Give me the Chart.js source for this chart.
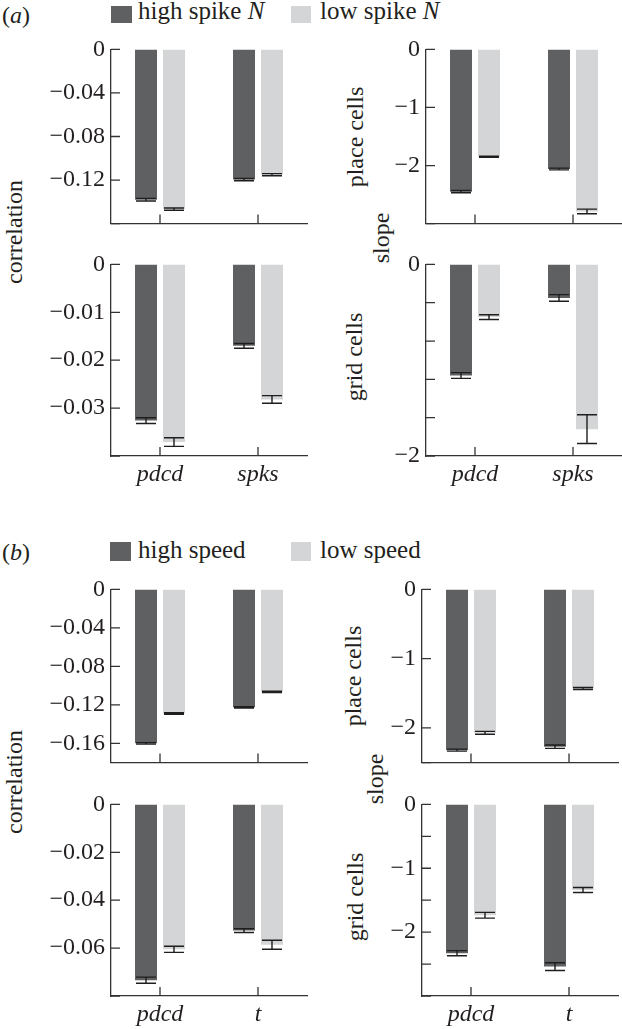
<!DOCTYPE html>
<html>
<head>
<meta charset="utf-8">
<script src="https://cdn.jsdelivr.net/npm/chart.js@4.4.1/dist/chart.umd.min.js"></script>
<style>
  html, body { margin: 0; padding: 0; background: #fff; overflow: hidden; }
  body { width: 622px; height: 1029px; position: relative; font-family: "Liberation Serif", serif; color: #231f20; }
  .panel { position: absolute; }
  .txt { position: absolute; font-size: 24px; line-height: 24px; white-space: nowrap; }
  .leg { font-size: 25px; }
  .rot { transform: translate(-50%, -50%) rotate(-90deg); }
  .sw { position: absolute; }
</style>
</head>
<body>
<!-- (a) -->
<div class="txt" style="left:2px; top:3px;">(<i>a</i>)</div>
<div class="sw" style="left:111px; top:6px; width:21px; height:17px; background:#5f6062;"></div>
<div class="txt leg" style="left:138px; top:-1px;">high spike <i>N</i></div>
<div class="sw" style="left:291px; top:6px; width:20px; height:17px; background:#d4d5d7;"></div>
<div class="txt leg" style="left:320px; top:-1px;">low spike <i>N</i></div>
<div class="txt rot" style="left:14px; top:232px;">correlation</div>
<div class="txt rot" style="left:381px; top:238px;">slope</div>
<div class="txt rot" style="left:355px; top:137px;">place cells</div>
<div class="txt rot" style="left:354px; top:357px;">grid cells</div>
<!-- (b) -->
<div class="txt" style="left:2px; top:540px;">(<i>b</i>)</div>
<div class="sw" style="left:110px; top:542px; width:21px; height:19px; background:#5f6062;"></div>
<div class="txt leg" style="left:138px; top:538px;">high speed</div>
<div class="sw" style="left:291px; top:542px; width:20px; height:19px; background:#d4d5d7;"></div>
<div class="txt leg" style="left:320px; top:538px;">low speed</div>
<div class="txt rot" style="left:14px; top:782px;">correlation</div>
<div class="txt rot" style="left:375px; top:779px;">slope</div>
<div class="txt rot" style="left:353px; top:676px;">place cells</div>
<div class="txt rot" style="left:355px; top:897px;">grid cells</div>

<script>
const catsA = ['pdcd', 'spks'];
const catsB = ['pdcd', 't'];

// (a) high vs low spike number
const aCorrPlaceHigh = [-0.138, -0.1196];
const aCorrPlaceHighErr = [0.0012, 0.001];
const aCorrPlaceLow = [-0.1467, -0.1151];
const aCorrPlaceLowErr = [0.001, 0.001];
const aCorrPlaceTicks = [0, -0.02, -0.04, -0.06, -0.08, -0.1, -0.12, -0.14, -0.16];
const aCorrPlaceLabels = [0, -0.04, -0.08, -0.12];

const aCorrGridHigh = [-0.0326, -0.017];
const aCorrGridHighErr = [0.0006, 0.0005];
const aCorrGridLow = [-0.0371, -0.0282];
const aCorrGridLowErr = [0.0009, 0.0008];
const aCorrGridTicks = [0, -0.005, -0.01, -0.015, -0.02, -0.025, -0.03, -0.035, -0.04];
const aCorrGridLabels = [0, -0.01, -0.02, -0.03];

const aSlopePlaceHigh = [-2.45, -2.06];
const aSlopePlaceHighErr = [0.02, 0.015];
const aSlopePlaceLow = [-1.85, -2.79];
const aSlopePlaceLowErr = [0.01, 0.04];
const aSlopePlaceTicks = [0, -0.5, -1, -1.5, -2, -2.5, -3];
const aSlopePlaceLabels = [0, -1, -2];

const aSlopeGridHigh = [-1.16, -0.35];
const aSlopeGridHighErr = [0.03, 0.035];
const aSlopeGridLow = [-0.55, -1.72];
const aSlopeGridLowErr = [0.025, 0.15];
const aSlopeGridTicks = [0, -0.2, -0.4, -0.6, -0.8, -1, -1.2, -1.4, -1.6, -1.8, -2];
const aSlopeGridLabels = [0, -1, -2];

// (b) high vs low speed
const bCorrPlaceHigh = [-0.16, -0.1225];
const bCorrPlaceHighErr = [0.0008, 0.0007];
const bCorrPlaceLow = [-0.129, -0.1065];
const bCorrPlaceLowErr = [0.0008, 0.0007];
const bCorrPlaceTicks = [0, -0.02, -0.04, -0.06, -0.08, -0.1, -0.12, -0.14, -0.16, -0.18];
const bCorrPlaceLabels = [0, -0.04, -0.08, -0.12, -0.16];

const bCorrGridHigh = [-0.0734, -0.0527];
const bCorrGridHighErr = [0.0013, 0.0008];
const bCorrGridLow = [-0.0605, -0.0586];
const bCorrGridLowErr = [0.0013, 0.0019];
const bCorrGridTicks = [0, -0.01, -0.02, -0.03, -0.04, -0.05, -0.06, -0.07, -0.08];
const bCorrGridLabels = [0, -0.02, -0.04, -0.06];

const bSlopePlaceHigh = [-2.32, -2.27];
const bSlopePlaceHighErr = [0.015, 0.025];
const bSlopePlaceLow = [-2.07, -1.43];
const bSlopePlaceLowErr = [0.02, 0.015];
const bSlopePlaceTicks = [0, -0.5, -1, -1.5, -2, -2.28, -2.5];
const bSlopePlaceLabels = [0, -1, -2];

const bSlopeGridHigh = [-2.33, -2.54];
const bSlopeGridHighErr = [0.04, 0.06];
const bSlopeGridLow = [-1.735, -1.34];
const bSlopeGridLowErr = [0.045, 0.04];
const bSlopeGridTicks = [0, -0.5, -1, -1.5, -2, -2.5, -3];
const bSlopeGridLabels = [0, -1, -2];

const DARK = '#5f6062';
const LIGHT = '#d4d5d7';
const AXIS = '#333333';
const TEXT = '#231f20';
const FONT = '"Liberation Serif", serif';

// tick marks point into the plot, so draw them here instead of the default ones
const inwardTicks = {
    id: 'inwardTicks',
    afterDraw(chart) {
        const { ctx, chartArea: a, scales: { x, y } } = chart;
        ctx.save();
        ctx.strokeStyle = AXIS;
        ctx.lineWidth = 1.3;
        ctx.beginPath();
        y.ticks.forEach(t => {
            const py = y.getPixelForValue(t.value);
            ctx.moveTo(a.left, py);
            ctx.lineTo(a.left + 9, py);
        });
        x.ticks.forEach((t, i) => {
            const px = x.getPixelForTick(i);
            ctx.moveTo(px, a.bottom);
            ctx.lineTo(px, a.bottom - 9);
        });
        ctx.stroke();
        ctx.restore();
    }
};

const errorBars = {
    id: 'errorBars',
    afterDatasetsDraw(chart) {
        const { ctx, scales: { y } } = chart;
        ctx.save();
        ctx.strokeStyle = '#1e1e1e';
        ctx.lineWidth = 1.4;
        chart.data.datasets.forEach((ds, di) => {
            chart.getDatasetMeta(di).data.forEach((bar, i) => {
                const v = ds.data[i], e = ds.err[i];
                const y1 = y.getPixelForValue(v + e);
                const y2 = y.getPixelForValue(v - e);
                ctx.beginPath();
                ctx.moveTo(bar.x, y1); ctx.lineTo(bar.x, y2);
                ctx.moveTo(bar.x - 10, y1); ctx.lineTo(bar.x + 10, y1);
                ctx.moveTo(bar.x - 10, y2); ctx.lineTo(bar.x + 10, y2);
                ctx.stroke();
            });
        });
        ctx.restore();
    }
};

function fmt(v) {
    if (v === 0) return '0';
    return (v < 0 ? '\u2212' : '') + String(Math.abs(v));
}

// box = wanted chart area in page pixels
function makePanel(box, cats, high, highErr, low, lowErr, ticks, labels, showCats) {
    const YW = 90, PT = 16, PR = 2;
    const XH = showCats ? 44 : 2;
    const plotW = box.right - box.left;
    const plotH = box.bottom - box.top;

    const wrap = document.createElement('div');
    wrap.className = 'panel';
    const canvas = document.createElement('canvas');
    canvas.width = YW + plotW + PR;
    canvas.height = PT + plotH + XH;
    wrap.appendChild(canvas);
    document.body.appendChild(wrap);

    const chart = new Chart(canvas.getContext('2d'), {
        type: 'bar',
        data: {
            labels: cats,
            datasets: [
                { data: high, err: highErr, backgroundColor: DARK, categoryPercentage: 0.571, barPercentage: 0.786 },
                { data: low, err: lowErr, backgroundColor: LIGHT, categoryPercentage: 0.571, barPercentage: 0.786 }
            ]
        },
        options: {
            responsive: false,
            animation: false,
            devicePixelRatio: 1,
            layout: { padding: { top: PT, right: PR, left: 0, bottom: 0 } },
            plugins: { legend: { display: false }, tooltip: { enabled: false } },
            scales: {
                x: {
                    grid: { display: false, drawTicks: false },
                    border: { display: true, color: AXIS, width: 1.3 },
                    ticks: {
                        display: showCats, autoSkip: false, maxRotation: 0, padding: 4, color: TEXT,
                        font: { family: FONT, size: 24, style: 'italic' }
                    },
                    afterFit: s => { s.height = XH; }
                },
                y: {
                    min: ticks[ticks.length - 1],
                    max: 0,
                    grid: { display: false, drawTicks: false },
                    border: { display: true, color: AXIS, width: 1.3 },
                    afterBuildTicks: s => { s.ticks = ticks.map(v => ({ value: v })); },
                    ticks: {
                        padding: 6, color: TEXT,
                        font: { family: FONT, size: 24 },
                        callback: v => labels.some(l => Math.abs(l - v) < 1e-9) ? fmt(v) : ''
                    },
                    afterFit: s => { s.width = YW; }
                }
            }
        },
        plugins: [errorBars, inwardTicks]
    });

    const ca = chart.chartArea;
    wrap.style.left = (box.left - ca.left) + 'px';
    wrap.style.top = (box.top - ca.top) + 'px';
    return chart;
}

function drawAll() {
    makePanel({ left: 111, right: 307, top: 49, bottom: 246 }, catsA,
        aCorrPlaceHigh, aCorrPlaceHighErr, aCorrPlaceLow, aCorrPlaceLowErr, aCorrPlaceTicks, aCorrPlaceLabels, false);
    makePanel({ left: 111, right: 307, top: 264, bottom: 460 }, catsA,
        aCorrGridHigh, aCorrGridHighErr, aCorrGridLow, aCorrGridLowErr, aCorrGridTicks, aCorrGridLabels, true);
    makePanel({ left: 426, right: 622, top: 49, bottom: 246 }, catsA,
        aSlopePlaceHigh, aSlopePlaceHighErr, aSlopePlaceLow, aSlopePlaceLowErr, aSlopePlaceTicks, aSlopePlaceLabels, false);
    makePanel({ left: 426, right: 622, top: 264, bottom: 460 }, catsA,
        aSlopeGridHigh, aSlopeGridHighErr, aSlopeGridLow, aSlopeGridLowErr, aSlopeGridTicks, aSlopeGridLabels, true);

    makePanel({ left: 111, right: 307, top: 589, bottom: 785 }, catsB,
        bCorrPlaceHigh, bCorrPlaceHighErr, bCorrPlaceLow, bCorrPlaceLowErr, bCorrPlaceTicks, bCorrPlaceLabels, false);
    makePanel({ left: 111, right: 307, top: 804, bottom: 1000 }, catsB,
        bCorrGridHigh, bCorrGridHighErr, bCorrGridLow, bCorrGridLowErr, bCorrGridTicks, bCorrGridLabels, true);
    makePanel({ left: 422, right: 618, top: 589, bottom: 785 }, catsB,
        bSlopePlaceHigh, bSlopePlaceHighErr, bSlopePlaceLow, bSlopePlaceLowErr, bSlopePlaceTicks, bSlopePlaceLabels, false);
    makePanel({ left: 422, right: 618, top: 804, bottom: 1000 }, catsB,
        bSlopeGridHigh, bSlopeGridHighErr, bSlopeGridLow, bSlopeGridLowErr, bSlopeGridTicks, bSlopeGridLabels, true);
}

// make sure the serif face is ready before the canvases measure text
Promise.all([
    document.fonts.load('24px "Liberation Serif"'),
    document.fonts.load('italic 24px "Liberation Serif"')
]).then(drawAll, drawAll);
</script>
</body>
</html>
